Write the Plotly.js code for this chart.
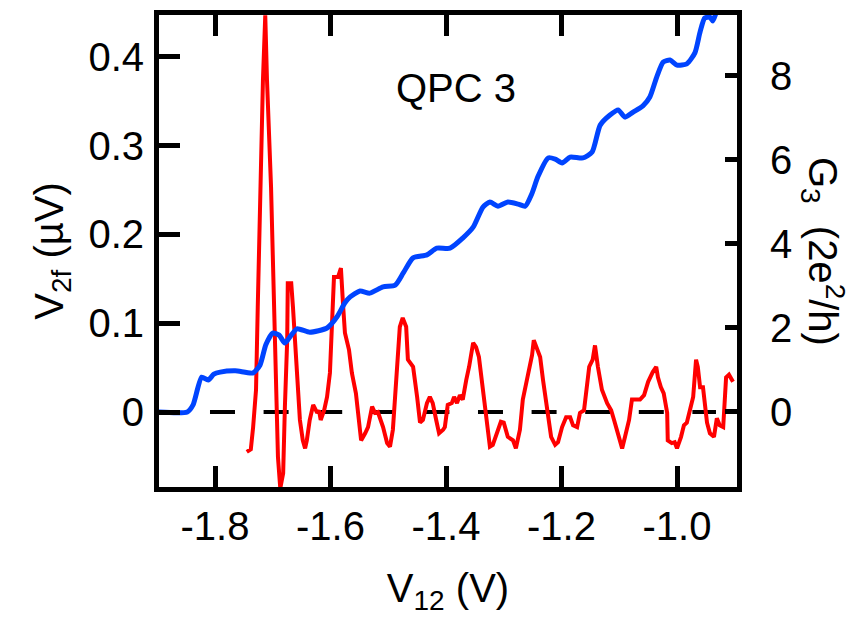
<!DOCTYPE html>
<html>
<head>
<meta charset="utf-8">
<script src="https://cdn.plot.ly/plotly-3.0.1.min.js"></script>
<style>html,body{margin:0;padding:0;background:#fff;}#chart{width:863px;height:625px;}</style>
</head>
<body>
<div id="chart"></div>
<script>
// V2f (red, left axis)
var redV = [-1.745,-1.738,-1.734,-1.729,-1.726,-1.722,-1.717,-1.713,-1.710,-1.703,-1.700,-1.698,-1.693,-1.691,-1.687,-1.682,-1.679,-1.675,-1.674,-1.668,-1.665,-1.658,-1.653,-1.648,-1.644,-1.641,-1.636,-1.630,-1.623,-1.620,-1.617,-1.611,-1.606,-1.601,-1.597,-1.594,-1.587,-1.582,-1.578,-1.575,-1.568,-1.563,-1.556,-1.547,-1.540,-1.535,-1.528,-1.523,-1.518,-1.509,-1.502,-1.497,-1.492,-1.485,-1.480,-1.475,-1.469,-1.466,-1.457,-1.450,-1.445,-1.440,-1.433,-1.428,-1.423,-1.417,-1.412,-1.405,-1.402,-1.397,-1.390,-1.386,-1.381,-1.376,-1.371,-1.365,-1.360,-1.353,-1.348,-1.343,-1.338,-1.331,-1.324,-1.319,-1.312,-1.305,-1.300,-1.293,-1.284,-1.279,-1.272,-1.267,-1.260,-1.251,-1.248,-1.242,-1.237,-1.232,-1.225,-1.218,-1.211,-1.206,-1.199,-1.192,-1.185,-1.180,-1.173,-1.168,-1.161,-1.156,-1.152,-1.146,-1.142,-1.137,-1.130,-1.121,-1.114,-1.109,-1.102,-1.095,-1.090,-1.083,-1.078,-1.069,-1.064,-1.057,-1.050,-1.042,-1.036,-1.033,-1.028,-1.023,-1.017,-1.016,-1.009,-1.004,-1.000,-0.993,-0.988,-0.983,-0.978,-0.972,-0.967,-0.964,-0.960,-0.955,-0.948,-0.943,-0.936,-0.931,-0.926,-0.920,-0.915,-0.910,-0.903];
var redY = [-0.045,-0.042,-0.017,0.025,0.118,0.241,0.374,0.447,0.374,0.254,0.186,0.118,0.006,-0.051,-0.086,-0.069,0.006,0.081,0.145,0.145,0.118,0.044,-0.009,-0.032,-0.041,-0.032,-0.009,0.008,-0.001,0.002,-0.009,0.002,0.017,0.044,0.100,0.152,0.152,0.162,0.118,0.089,0.070,0.044,0.021,-0.032,-0.024,-0.017,0.006,-0.001,0.000,-0.017,-0.035,-0.039,-0.020,0.044,0.096,0.106,0.096,0.059,0.051,0.017,-0.012,-0.009,0.010,0.017,0.010,-0.009,-0.024,-0.020,-0.017,0.008,0.010,0.017,0.010,0.019,0.014,0.036,0.051,0.078,0.073,0.062,0.036,-0.001,-0.039,-0.037,-0.024,-0.011,-0.012,-0.028,-0.032,-0.041,-0.020,0.014,0.036,0.064,0.081,0.070,0.062,0.036,0.002,-0.028,-0.037,-0.034,-0.017,-0.006,-0.006,-0.015,-0.017,-0.001,0.002,0.033,0.051,0.059,0.075,0.051,0.025,0.010,0.002,-0.009,-0.024,-0.041,-0.028,-0.009,0.014,0.014,0.014,0.019,0.034,0.045,0.051,0.039,0.028,0.021,-0.001,-0.032,-0.035,-0.034,-0.041,-0.028,-0.015,-0.012,0.002,0.017,0.059,0.051,0.028,0.028,-0.012,-0.024,-0.028,-0.007,-0.015,-0.017,0.039,0.042,0.034];

// G3 (blue, right axis)
var blueV = [-1.900,-1.848,-1.838,-1.823,-1.812,-1.802,-1.791,-1.765,-1.734,-1.722,-1.712,-1.700,-1.689,-1.679,-1.668,-1.658,-1.636,-1.606,-1.589,-1.575,-1.566,-1.549,-1.532,-1.509,-1.488,-1.474,-1.457,-1.433,-1.416,-1.393,-1.371,-1.353,-1.336,-1.324,-1.310,-1.293,-1.275,-1.263,-1.251,-1.241,-1.223,-1.211,-1.199,-1.185,-1.163,-1.147,-1.133,-1.116,-1.102,-1.090,-1.076,-1.059,-1.047,-1.035,-1.024,-1.012,-1.000,-0.983,-0.969,-0.960,-0.952,-0.943,-0.938,-0.932];
var blueG = [0,0,0.17,0.83,0.76,0.90,0.95,0.98,0.93,1.12,1.60,1.88,1.83,1.64,1.83,1.98,1.90,2.00,2.26,2.60,2.74,2.88,2.83,2.98,3.02,3.31,3.67,3.74,3.90,3.90,4.14,4.40,4.88,5.00,4.90,5.00,4.95,4.90,5.21,5.60,6.05,6.02,5.93,6.07,6.05,6.19,6.83,7.07,7.19,7.02,7.14,7.29,7.50,7.98,8.33,8.38,8.26,8.29,8.55,9.05,9.38,9.40,9.31,9.52];

// zero reference (dashed)
var zeroV = [-1.8087, -0.9325];
var zeroY = [0, 0];

// ticks
var xTickVals = [-1.8, -1.6, -1.4, -1.2, -1.0];
var xTickText = ["-1.8", "-1.6", "-1.4", "-1.2", "-1.0"];
var yTickVals = [0, 0.1, 0.2, 0.3, 0.4];
var yTickText = ["0", "0.1", "0.2", "0.3", "0.4"];
var y2TickVals = [0, 2, 4, 6, 8];
var y2TickText = ["0", "2", "4", "6", "8"];

var FONT = "Liberation Sans, Arial, Helvetica, sans-serif";

var traces = [
  {x: zeroV, y: zeroY, type: 'scatter', mode: 'lines', yaxis: 'y',
   line: {color: '#000', width: 4, dash: '25px,28.6px'}, hoverinfo: 'skip'},
  {x: blueV, y: blueG, type: 'scatter', mode: 'lines', yaxis: 'y2',
   line: {color: 'rgb(0,68,255)', width: 5, shape: 'spline', smoothing: 0.6}},
  {x: redV, y: redY, type: 'scatter', mode: 'lines', yaxis: 'y',
   line: {color: '#ff0000', width: 4}}
];

var layout = {
  width: 863, height: 625,
  margin: {l: 159, r: 126, t: 15, b: 138, pad: 0},
  paper_bgcolor: '#fff', plot_bgcolor: '#fff',
  showlegend: false,
  font: {family: FONT, size: 40, color: '#000'},
  xaxis: {
    range: [-1.897, -0.8961], showgrid: false, zeroline: false,
    showline: true, linecolor: '#000', linewidth: 5, mirror: 'ticks',
    ticks: 'inside', ticklen: 21, tickwidth: 5, tickcolor: '#000',
    tickmode: 'array', tickvals: xTickVals, ticktext: xTickText,
    tickfont: {family: FONT, size: 40, color: '#000'},
    ticklabelstandoff: 0,
    title: {text: 'V<sub>12</sub> (V)', font: {family: FONT, size: 40, color: '#000'}, standoff: 28}
  },
  yaxis: {
    range: [-0.0845, 0.4473], showgrid: false, zeroline: false,
    showline: true, linecolor: '#000', linewidth: 5,
    ticks: 'inside', ticklen: 21, tickwidth: 5, tickcolor: '#000',
    tickmode: 'array', tickvals: yTickVals, ticktext: yTickText,
    tickfont: {family: FONT, size: 40, color: '#000'},
    ticklabelstandoff: 2,
    title: {text: 'V<sub>2f</sub> (µV)', font: {family: FONT, size: 40, color: '#000'}, standoff: 14}
  },
  yaxis2: {
    range: [-1.786, 9.452], overlaying: 'y', side: 'right',
    showgrid: false, zeroline: false,
    showline: true, linecolor: '#000', linewidth: 5,
    ticks: 'inside', ticklen: 12, tickwidth: 5, tickcolor: '#000',
    tickmode: 'array', tickvals: y2TickVals, ticktext: y2TickText,
    tickfont: {family: FONT, size: 40, color: '#000'},
    ticklabelstandoff: 20
  },
  annotations: [
    {text: 'QPC 3', xref: 'paper', yref: 'paper', x: 0.514, y: 0.846,
     xanchor: 'center', yanchor: 'middle', showarrow: false,
     font: {family: FONT, size: 40, color: '#000'}},
    {text: 'G<sub>3</sub>  (2e<sup>2</sup>/h)', xref: 'paper', yref: 'paper',
     x: 1.149, y: 0.500, xanchor: 'center', yanchor: 'middle', textangle: 90,
     showarrow: false, font: {family: FONT, size: 40, color: '#000'}}
  ]
};

Plotly.newPlot('chart', traces, layout, {displayModeBar: false, staticPlot: true});
</script>
</body>
</html>
